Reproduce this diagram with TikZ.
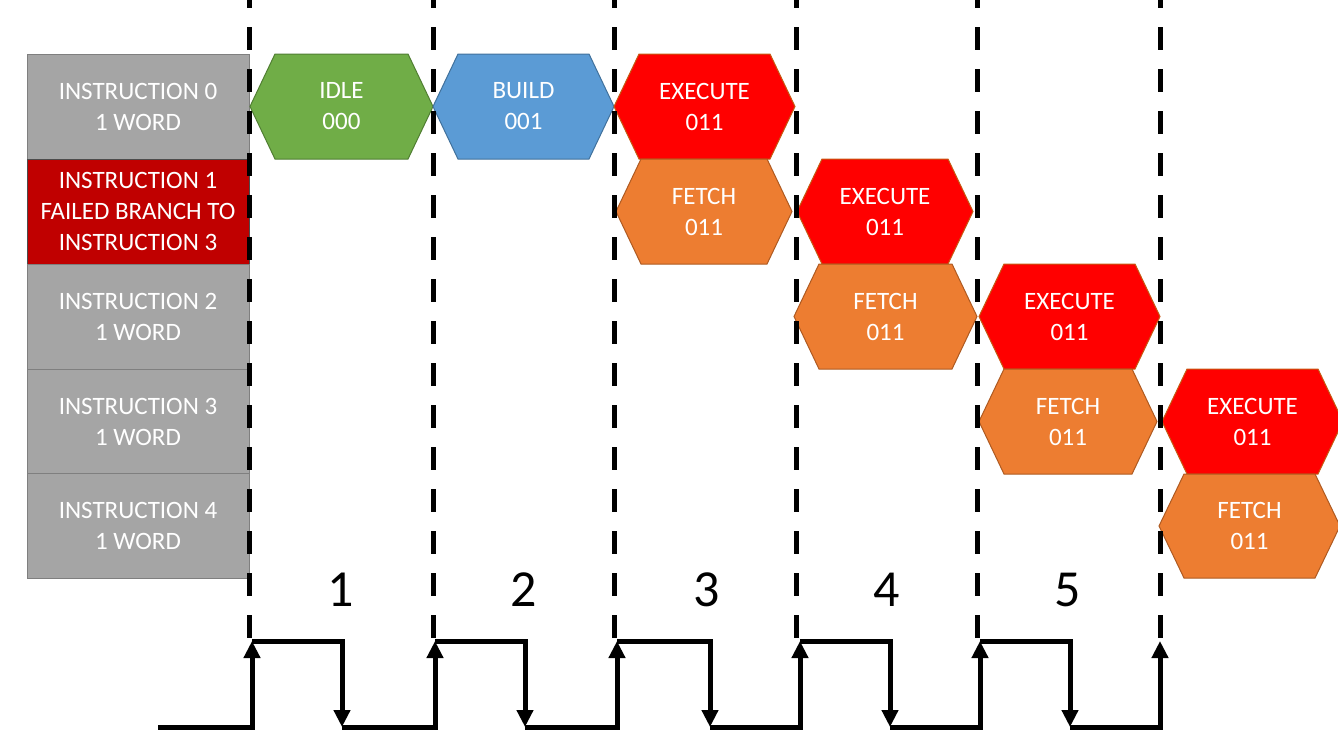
\documentclass[tikz,border=0pt]{standalone}
\usepackage{fontspec}
\setmainfont{Carlito}
\usetikzlibrary{arrows.meta}
\definecolor{idlegreen}{HTML}{70AD47}
\definecolor{idleedge}{HTML}{507E32}
\definecolor{buildblue}{HTML}{5B9BD5}
\definecolor{buildedge}{HTML}{41719C}
\definecolor{execred}{HTML}{FF0000}
\definecolor{execedge}{HTML}{C55A11}
\definecolor{fetchor}{HTML}{ED7D31}
\definecolor{fetchedge}{HTML}{AE5A21}
\definecolor{instgray}{HTML}{A5A5A5}
\definecolor{instedge}{HTML}{7F7F7F}
\definecolor{instred}{HTML}{C00000}
\newcommand\HexCell[8]{%
  \filldraw[fill=#6, draw=#7, line width=1pt] (#2,{(#4+#5)/2}) -- (#2+25,#4) -- (#3-25,#4) -- (#3,{(#4+#5)/2}) -- (#3-25,#5) -- (#2+25,#5) -- cycle;
  \node[celltext] (#1) at ({(#2+#3)/2},{(#4+#5)/2}) {#8};}
\begin{document}
\begin{tikzpicture}[x=1pt, y=-1pt,
  celltext/.style={text=white, align=center, font=\fontsize{25}{31}\selectfont, inner sep=0pt},
  instbox/.style={celltext, draw=instedge, line width=0.8pt, minimum width=222pt, minimum height=105pt},
  clocknum/.style={font=\fontsize{52}{60}\selectfont, inner sep=0pt},
  divider/.style={line width=5pt, dash pattern=on 23pt off 19pt, dash phase=15pt},
  clock/.style={line width=5pt, line join=miter, -{Triangle[length=17pt,width=16pt]}}]
\useasboundingbox (0,0) rectangle (1338,734);
% instruction column
\node[instbox, fill=instgray] (i0) at (138,106.5) {INSTRUCTION 0\\1 WORD};
\node[instbox, fill=instred, draw=black!70] (i1) at (138,211.5) {INSTRUCTION 1\\FAILED BRANCH TO\\INSTRUCTION 3};
\node[instbox, fill=instgray] (i2) at (138,316.5) {INSTRUCTION 2\\1 WORD};
\node[instbox, fill=instgray] (i3) at (138,421.5) {INSTRUCTION 3\\1 WORD};
\node[instbox, fill=instgray] (i4) at (138,526) {INSTRUCTION 4\\1 WORD};
% pipeline cells
\HexCell{idle}{250}{433}{54}{159}{idlegreen}{idleedge}{IDLE\\000}
\HexCell{build}{433}{614}{54}{159}{buildblue}{buildedge}{BUILD\\001}
\HexCell{exA}{614}{795}{54}{159}{execred}{execedge}{EXECUTE\\011}
\HexCell{feA}{616}{792}{159}{264}{fetchor}{fetchedge}{FETCH\\011}
\HexCell{exB}{797}{973}{159}{264}{execred}{execedge}{EXECUTE\\011}
\HexCell{feB}{794}{977}{264}{369}{fetchor}{fetchedge}{FETCH\\011}
\HexCell{exC}{979}{1160}{264}{369}{execred}{execedge}{EXECUTE\\011}
\HexCell{feC}{979}{1157}{369}{474}{fetchor}{fetchedge}{FETCH\\011}
\HexCell{exD}{1162}{1343}{369}{474}{execred}{execedge}{EXECUTE\\011}
\HexCell{feD}{1159}{1340}{474}{578}{fetchor}{fetchedge}{FETCH\\011}
% cycle dividers
\foreach \k/\xx in {1/249,2/433,3/614,4/796,5/977,6/1160}{
  \coordinate (d\k t) at (\xx,0);
  \coordinate (d\k b) at (\xx,638);
  \draw[divider] (d\k t) -- (d\k b);
}
% cycle numbers
\node[clocknum] (n1) at (341,590) {1};
\node[clocknum] (n2) at (524,590) {2};
\node[clocknum] (n3) at (707,590) {3};
\node[clocknum] (n4) at (887,590) {4};
\node[clocknum] (n5) at (1068,590) {5};
% clock waveform
\coordinate (c0) at (158,727);
\foreach \k/\xx in {1/252,2/435,3/617,4/800,5/980,6/1160}{\coordinate (r\k) at (\xx,641);}
\foreach \k/\xx in {1/342,2/525,3/710,4/890,5/1070}{\coordinate (f\k) at (\xx,727);}
\draw[clock] (c0) -| (r1);
\draw[clock] (r1) -| (f1);
\draw[clock] (f1) -| (r2);
\draw[clock] (r2) -| (f2);
\draw[clock] (f2) -| (r3);
\draw[clock] (r3) -| (f3);
\draw[clock] (f3) -| (r4);
\draw[clock] (r4) -| (f4);
\draw[clock] (f4) -| (r5);
\draw[clock] (r5) -| (f5);
\draw[clock] (f5) -| (r6);
\end{tikzpicture}
\end{document}
